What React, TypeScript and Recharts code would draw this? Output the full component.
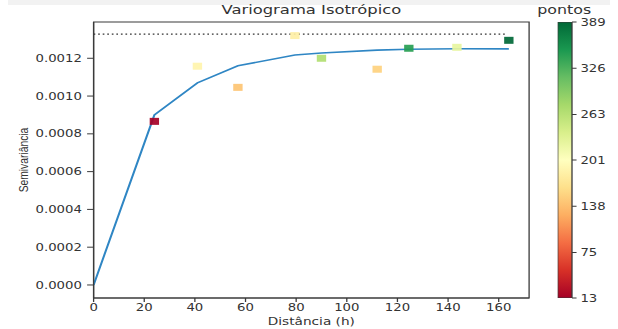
import {
  Bar,
  BarChart,
  ComposedChart,
  Line,
  ReferenceArea,
  ReferenceLine,
  Scatter,
  XAxis,
  YAxis,
} from "recharts";

// experimental variogram (bin centres, semivariance, pairs per bin)
const lags = [24, 41, 57, 79.5, 90, 112, 124.5, 143.5, 164];
const semivariance = [0.000866, 0.001158, 0.001046, 0.00132, 0.0012, 0.001142, 0.001253, 0.001258, 0.001295];
const pairCounts = [13, 188, 142, 182, 268, 152, 345, 225, 389];

// fitted model
const modelLags = [0, 24, 41, 57, 79.5, 90, 112, 124.5, 143.5, 164];
const modelValues = [0, 0.0009, 0.00107, 0.00116, 0.001217, 0.001228, 0.001243, 0.001248, 0.00125, 0.00125];

const sill = 0.001328;
const sillEnd = 163;

const xTicks = [0, 20, 40, 60, 80, 100, 120, 140, 160];
const yTicks = [0, 0.0002, 0.0004, 0.0006, 0.0008, 0.001, 0.0012];
const countTicks = [13, 75, 138, 201, 263, 326, 389];

const xDomain: [number, number] = [0, 172];
const yDomain: [number, number] = [-0.000069, 0.001392];
const countMin = 13;
const countMax = 389;

// RdYlGn
const rdYlGn = [
  "#a50026", "#d73027", "#f46d43", "#fdae61", "#fee08b", "#ffffbf",
  "#d9ef8b", "#a6d96a", "#66bd63", "#1a9850", "#006837",
];

function hexToRgb(h: string) {
  const n = parseInt(h.slice(1), 16);
  return [(n >> 16) & 255, (n >> 8) & 255, n & 255];
}

function cmap(v: number) {
  const t = Math.min(1, Math.max(0, (v - countMin) / (countMax - countMin)));
  const p = t * (rdYlGn.length - 1);
  const i = Math.min(rdYlGn.length - 2, Math.floor(p));
  const f = p - i;
  const a = hexToRgb(rdYlGn[i]);
  const b = hexToRgb(rdYlGn[i + 1]);
  const c = a.map((x, k) => Math.round(x + (b[k] - x) * f));
  return `rgb(${c[0]},${c[1]},${c[2]})`;
}

const points = lags.map((lag, i) => ({ lag, gamma: semivariance[i], n: pairCounts[i] }));
const model = modelLags.map((lag, i) => ({ lag, model: modelValues[i] }));
const colorbarData = [{ name: "pontos", range: [countMin, countMax] }];

// the reference is stretched sideways, so draw narrow and scale x
const STRETCH = 1.3;
const W = 618 / STRETCH;
const axisColor = "#3a3a3a";
const font = "'DejaVu Sans', sans-serif";

function SquareMarker(props: any) {
  const { cx, cy, payload } = props;
  if (cx == null || cy == null) return null;
  return <rect x={cx - 3.6} y={cy - 3.5} width={7.2} height={7} fill={cmap(payload.n)} fillOpacity={0.92} />;
}

export default function App() {
  return (
    <div style={{ position: "fixed", left: 0, top: 0, width: 618, height: 329, overflow: "hidden", background: "#fff" }}>
      <div style={{ position: "absolute", left: 8, top: 0, width: 602, height: 5, background: "#f2f2f2" }} />
      <div
        style={{
          position: "absolute",
          left: 0,
          top: 0,
          width: W,
          height: 329,
          transform: `scaleX(${STRETCH})`,
          transformOrigin: "0 0",
          fontFamily: font,
        }}
      >
        <div
          style={{
            position: "absolute",
            left: 72,
            width: 335,
            top: 1,
            textAlign: "center",
            fontSize: 12.6,
            color: "#333",
            lineHeight: "18px",
          }}
        >
          Variograma Isotrópico
        </div>
        <div
          style={{
            position: "absolute",
            left: 72,
            width: 335,
            top: 315,
            textAlign: "center",
            fontSize: 10.5,
            color: "#333",
            lineHeight: "12px",
          }}
        >
          Distância (h)
        </div>
        <div
          style={{
            position: "absolute",
            left: 17.5,
            top: 160,
            transform: "translate(-50%, -50%) rotate(-90deg)",
            fontFamily: "'Liberation Sans', sans-serif",
            fontSize: 10.3,
            color: "#333",
            whiteSpace: "nowrap",
          }}
        >
          Semivariância
        </div>
        <div
          style={{
            position: "absolute",
            left: 410,
            width: 48,
            top: 1,
            textAlign: "center",
            fontSize: 12.2,
            color: "#333",
            lineHeight: "18px",
          }}
        >
          pontos
        </div>

        <div style={{ position: "absolute", left: 0, top: 0 }}>
          <ComposedChart width={410} height={329} data={model} margin={{ top: 22, right: 3, bottom: 0, left: 0 }}>
            <XAxis
              dataKey="lag"
              type="number"
              domain={xDomain}
              ticks={xTicks}
              allowDataOverflow
              height={31}
              stroke={axisColor}
              tickSize={4}
              tickMargin={2}
              tick={{ fontSize: 10.2, fill: "#333", fontFamily: font }}
            />
            <YAxis
              type="number"
              domain={yDomain}
              ticks={yTicks}
              allowDataOverflow
              width={72}
              stroke={axisColor}
              tickSize={5}
              tickMargin={4}
              tickFormatter={(v: number) => v.toFixed(4)}
              tick={{ fontSize: 10.2, fill: "#333", fontFamily: font }}
            />
            <ReferenceArea
              x1={xDomain[0]}
              x2={xDomain[1]}
              y1={yDomain[0]}
              y2={yDomain[1]}
              fill="none"
              stroke={axisColor}
              strokeWidth={1}
              ifOverflow="visible"
            />
            <ReferenceLine
              segment={[
                { x: 0, y: sill },
                { x: sillEnd, y: sill },
              ]}
              stroke="#333"
              strokeWidth={1.4}
              strokeDasharray="1.3 2.2"
            />
            <Scatter data={points} dataKey="gamma" shape={<SquareMarker />} isAnimationActive={false} />
            <Line
              dataKey="model"
              stroke="#2f86c4"
              strokeWidth={1.6}
              dot={false}
              activeDot={false}
              isAnimationActive={false}
            />
          </ComposedChart>
        </div>

        <div style={{ position: "absolute", left: 428.5, top: 0 }}>
          <BarChart
            width={47}
            height={329}
            data={colorbarData}
            barCategoryGap={0}
            margin={{ top: 22, right: 0, bottom: 31, left: 0 }}
          >
            <defs>
              <linearGradient id="cbar" x1="0" y1="1" x2="0" y2="0">
                {rdYlGn.map((c, i) => (
                  <stop key={c} offset={`${(i / (rdYlGn.length - 1)) * 100}%`} stopColor={c} />
                ))}
              </linearGradient>
            </defs>
            <XAxis dataKey="name" hide />
            <YAxis
              orientation="right"
              type="number"
              domain={[countMin, countMax]}
              ticks={countTicks}
              allowDataOverflow
              width={36}
              axisLine={false}
              stroke={axisColor}
              tickSize={3.5}
              tickMargin={3}
              tick={{ fontSize: 10.2, fill: "#333", fontFamily: font }}
            />
            <Bar dataKey="range" fill="url(#cbar)" stroke={axisColor} strokeWidth={1} isAnimationActive={false} />
          </BarChart>
        </div>
      </div>
    </div>
  );
}
